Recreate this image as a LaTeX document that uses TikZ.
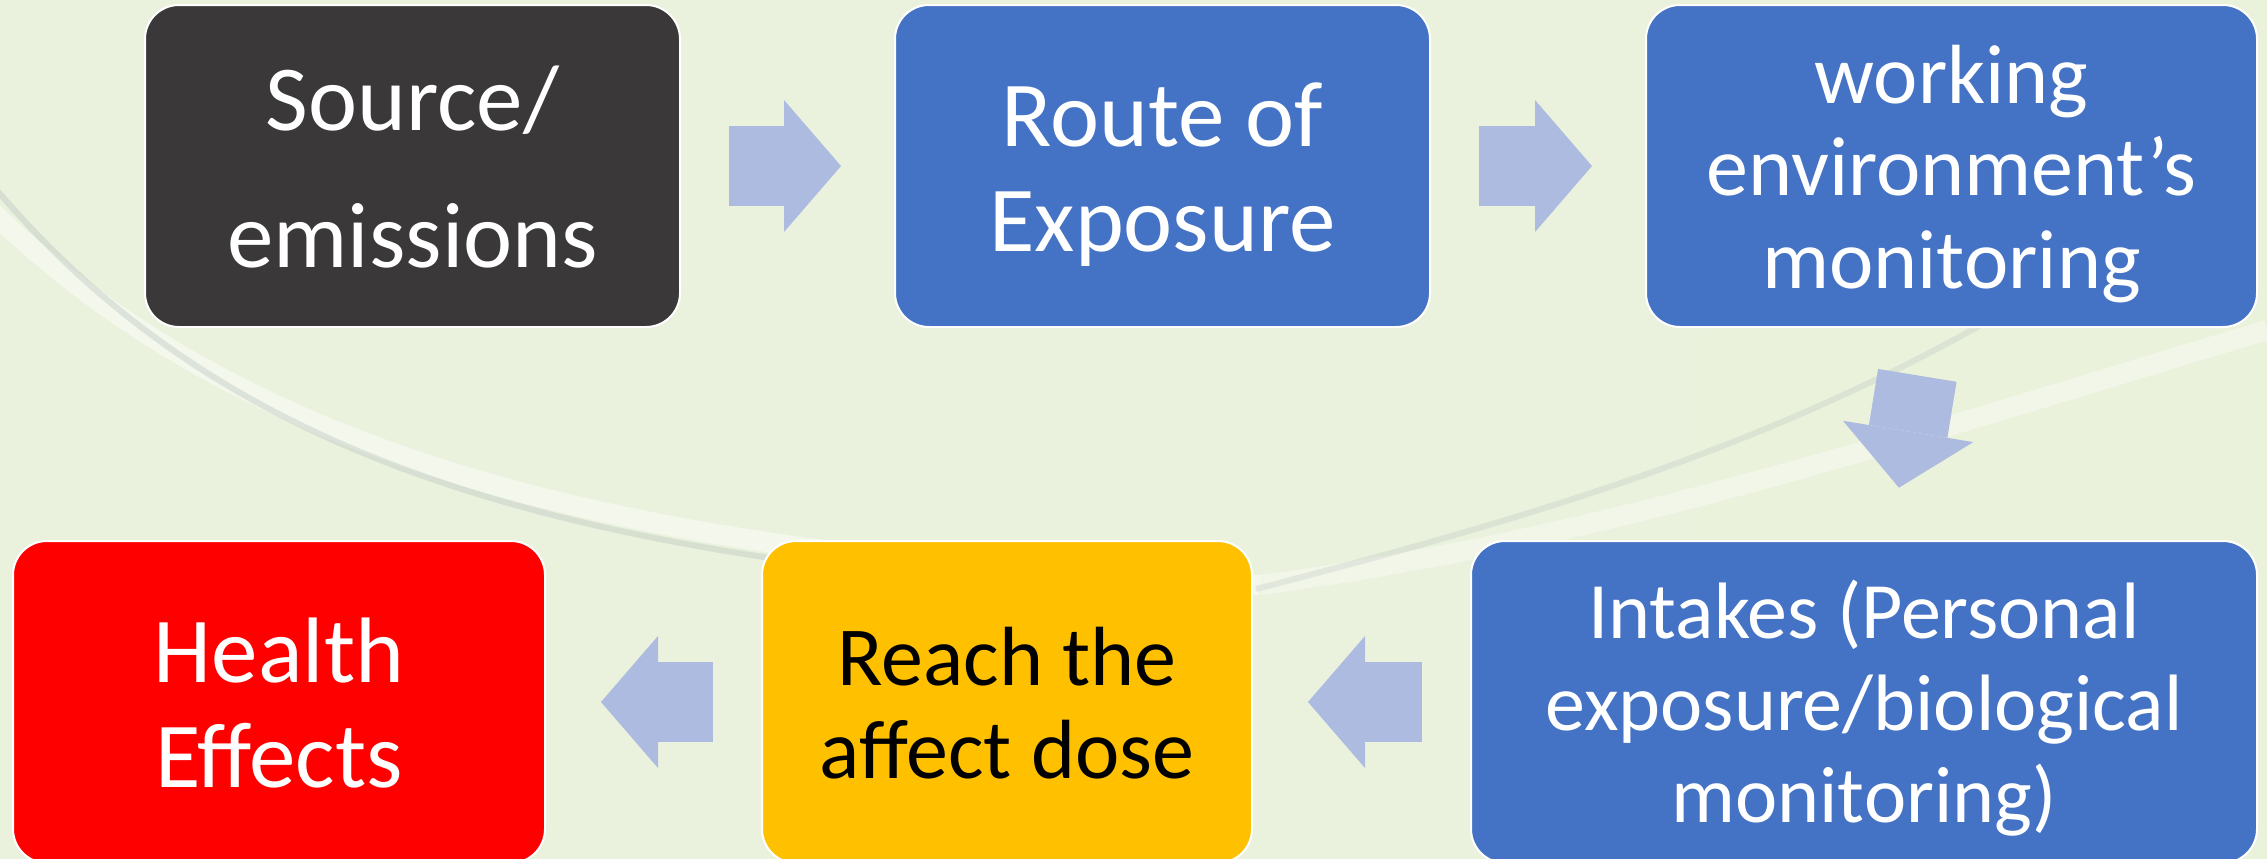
\documentclass[tikz,border=0pt]{standalone}
\usepackage{fontspec}
\setmainfont{Carlito}
\usetikzlibrary{arrows.meta}

\definecolor{boxdark}{RGB}{59,56,58}
\definecolor{boxblue}{RGB}{68,114,196}
\definecolor{boxgold}{RGB}{255,192,0}
\definecolor{boxred}{RGB}{255,0,0}
\definecolor{arrowblue}{RGB}{173,187,224}
\definecolor{bgleft}{RGB}{234,242,222}
\definecolor{bgmid}{RGB}{213,225,206}
\definecolor{bgright}{RGB}{234,242,220}
\definecolor{swoosh}{RGB}{178,190,186}

\tikzset{
  stepbox/.style={rectangle, rounded corners=17pt, draw=white, line width=1pt,
    minimum height=161pt, inner sep=0pt, align=center, text=white,
    text depth=0.18em},
  bigtext/.style={font=\fontsize{46.5}{52.5}\selectfont},
  midtext/.style={font=\fontsize{42}{46.25}\selectfont},
  flowarrow/.style={draw=arrowblue, line width=39.75pt,
    -{Triangle[length=28.5pt, width=66pt, line width=0pt, fill=arrowblue]},
    shorten <=24pt, shorten >=26.5pt}
}

\begin{document}
\begin{tikzpicture}[x=0.5pt, y=-0.5pt]

\useasboundingbox (0,0) rectangle (2267,858);
\clip (0,0) rectangle (2267,858);

% Background
\fill[left color=bgleft, middle color=bgmid, right color=bgright] (0,0) rectangle (2267,858);
\draw[white, opacity=0.45, line width=10pt] (-20,200) .. controls (250,470) and (650,560) .. (1260,585);
\draw[white, opacity=0.35, line width=10pt] (2267,330) .. controls (1900,440) and (1600,540) .. (1260,585);
\draw[swoosh, opacity=0.35, line width=3pt] (-20,170) .. controls (200,440) and (500,540) .. (1000,585);
\draw[swoosh, opacity=0.25, line width=3pt] (1256,589) .. controls (1600,500) and (1850,420) .. (2120,240);

% Top row
\node[stepbox, font=\fontsize{46.5}{68.5}\selectfont, text height=103.4pt, fill=boxdark, minimum width=267.5pt] (src) at (412.5,166) {Source/\\emissions};
\node[stepbox, bigtext, text height=87.4pt, fill=boxblue, minimum width=267.5pt] (route) at (1162.5,166) {Route of\\Exposure};
\node[stepbox, midtext, text height=124pt, fill=boxblue, minimum width=305.5pt] (work) at (1951.5,166) {working\\environment’s\\monitoring};

% Bottom row
\node[stepbox, font=\fontsize{40}{46}\selectfont, text height=122pt, fill=boxblue, minimum width=393pt] (intake) at (1864,702) {Intakes (Personal\\exposure/biological\\monitoring)};
\node[stepbox, midtext, text height=78pt, fill=boxgold, text=black, minimum width=245pt] (reach) at (1007,702) {Reach the\\affect dose};
\node[stepbox, bigtext, text height=86.9pt, fill=boxred, minimum width=266pt] (health) at (279,702) {Health\\Effects};

% Block arrows
\draw[flowarrow] (src) -- (route);
\draw[flowarrow] (route) -- (work);
\draw[flowarrow] (work) -- (intake);
\draw[flowarrow, shorten >=27.5pt] (intake) -- (reach);
\draw[flowarrow, shorten >=27.5pt] (reach) -- (health);

\end{tikzpicture}
\end{document}
